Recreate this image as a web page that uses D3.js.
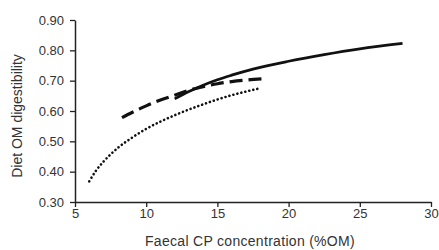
<!DOCTYPE html>
<html>
<head>
<meta charset="utf-8">
<script src="https://cdn.jsdelivr.net/npm/d3@7"></script>
<style>
  body { margin: 0; background: #fff; }
  svg { display: block; font-family: "Liberation Sans", Arial, sans-serif; }
</style>
</head>
<body>
<svg id="chart" width="439" height="250"></svg>
<script>
// values
const xTicks = [5, 10, 15, 20, 25, 30];
const yTicks = [0.30, 0.40, 0.50, 0.60, 0.70, 0.80, 0.90];

const solidX = [12, 13, 14, 15, 16, 17.5, 20, 22.5, 25, 28];
const solidY = [0.640, 0.664, 0.685, 0.703, 0.718, 0.738, 0.764, 0.786, 0.805, 0.823];

const dashX = [8.3, 9, 10, 11, 12, 13, 14, 15, 16, 17, 18.1];
const dashY = [0.578, 0.595, 0.617, 0.636, 0.652, 0.668, 0.680, 0.690, 0.697, 0.702, 0.706];

const dotX = [6, 6.5, 7, 7.5, 8, 9, 10, 11, 12, 13, 14, 15, 16, 17, 17.9];
const dotY = [0.368, 0.405, 0.433, 0.457, 0.478, 0.512, 0.541, 0.565, 0.586, 0.605, 0.622, 0.638, 0.652, 0.664, 0.674];

const svg = d3.select("#chart");

const x = d3.scaleLinear().domain([5, 30]).range([75, 431]);
const y = d3.scaleLinear().domain([0.30, 0.90]).range([202, 20]);

// axes
const xAxis = d3.axisBottom(x).tickValues(xTicks).tickSize(5).tickSizeOuter(0).tickFormat(d3.format("d"));
const yAxis = d3.axisLeft(y).tickValues(yTicks).tickSize(5).tickSizeOuter(0).tickFormat(d3.format(".2f"));

const gx = svg.append("g").attr("transform", "translate(0,202)").call(xAxis);
const gy = svg.append("g").attr("transform", "translate(75,0)").call(yAxis);

[gx, gy].forEach(g => {
  g.select(".domain").attr("stroke", "#222").attr("stroke-width", 1.5);
  g.selectAll(".tick line").attr("stroke", "#222").attr("stroke-width", 1.3);
  g.selectAll(".tick text").attr("fill", "#333").style("font-size", "13px")
    .style("font-family", "'Liberation Sans', Arial, sans-serif");
});
gx.selectAll(".tick text").attr("y", 7).attr("dy", "0.71em");
gy.selectAll(".tick text").attr("x", -11);

// curves
const line = d3.line().x(d => x(d[0])).y(d => y(d[1])).curve(d3.curveMonotoneX);

function drawCurve(xs, ys, width, dash, cap) {
  svg.append("path")
    .datum(xs.map((v, i) => [v, ys[i]]))
    .attr("d", line)
    .attr("fill", "none")
    .attr("stroke", "#111")
    .attr("stroke-width", width)
    .attr("stroke-dasharray", dash)
    .attr("stroke-linecap", cap);
}

drawCurve(solidX, solidY, 2.8, null, "butt");
drawCurve(dashX, dashY, 3.2, "13,6", "butt");
drawCurve(dotX, dotY, 2.6, "0.1,4", "round");

// axis titles
svg.append("text")
  .attr("x", 250).attr("y", 246)
  .attr("text-anchor", "middle")
  .attr("fill", "#333")
  .style("font-size", "14px")
  .style("letter-spacing", "0.3px")
  .text("Faecal CP concentration (%OM)");

svg.append("text")
  .attr("transform", "translate(22,116) rotate(-90)")
  .attr("text-anchor", "middle")
  .attr("fill", "#333")
  .style("font-size", "14px")
  .text("Diet OM digestibility");
</script>
</body>
</html>
